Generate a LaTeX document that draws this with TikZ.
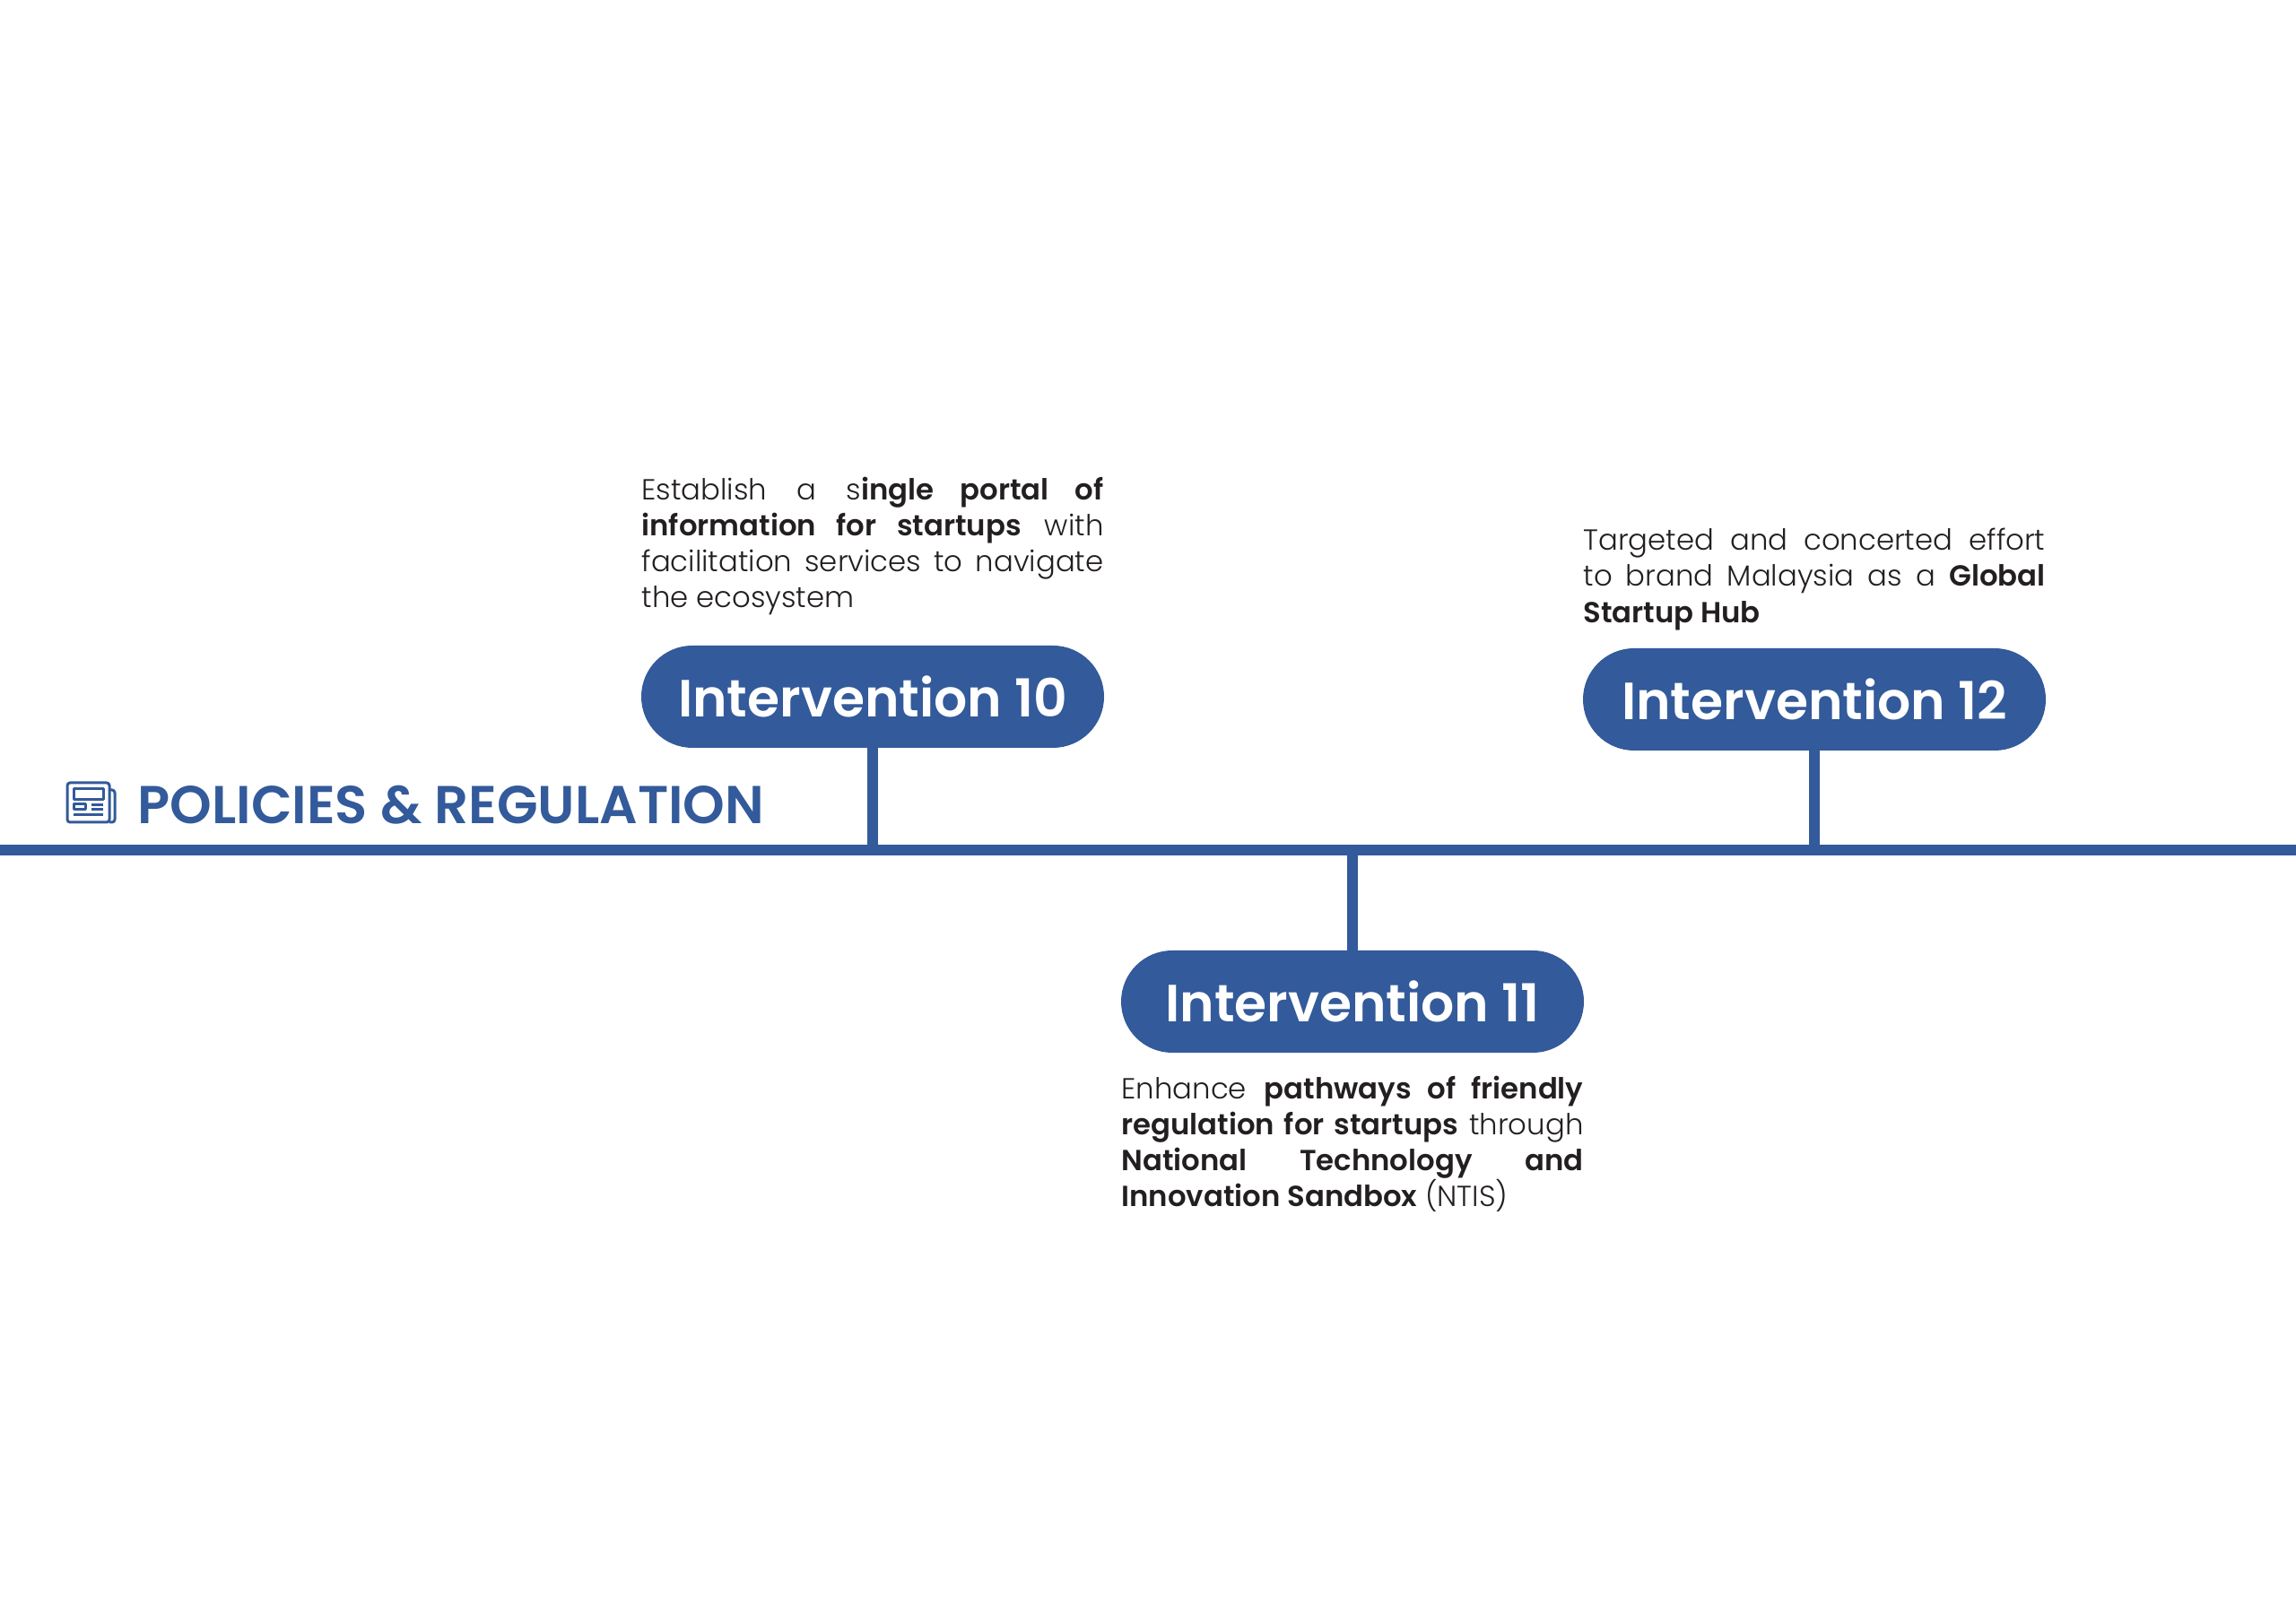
\documentclass[tikz,border=0pt]{standalone}
\usepackage{fontspec}
\usepackage{xcolor}
\usetikzlibrary{positioning,shapes.misc}
\setmainfont{Poppins Light}[BoldFont={Poppins SemiBold}]
\newfontfamily\headfont{Poppins SemiBold}
\definecolor{barblue}{HTML}{335A9A}
\definecolor{inktext}{HTML}{231F20}
\tikzset{
    pill/.style={rounded rectangle, fill=barblue, text=white, minimum width=5.16cm, minimum height=1.14cm, inner sep=0pt, font=\headfont\fontsize{16.6}{20}\selectfont},
    blurb/.style={text width=5.15cm, inner sep=0pt, align=justify, text=inktext, font=\fontsize{9.2}{11.4}\selectfont},
    stem/.style={barblue, line width=0.12cm},
    iconline/.style={barblue, line width=0.03cm, line join=round}
}

\begin{document}
\begin{tikzpicture}
    \useasboundingbox (0,0) rectangle (25.6,18.1);

    % Main line
    \coordinate (lineL) at (0,8.62);
    \coordinate (lineR) at (25.6,8.62);
    \draw[stem] (lineL) -- (lineR);

    % Interventions
    \node[pill] (int10) at (9.73,10.33) {Intervention 10};
    \node[pill] (int11) at (15.08,6.93) {Intervention 11};
    \node[pill] (int12) at (20.23,10.30) {Intervention 12};

    % Stems
    \draw[stem] ([yshift=2pt]int10.south) -- (int10.south |- lineL);
    \draw[stem] ([yshift=-2pt]int11.north) -- (int11.north |- lineL);
    \draw[stem] ([yshift=2pt]int12.south) -- (int12.south |- lineL);

    % Descriptions
    \node[blurb, above=0.33cm of int10] (txt10) {Establish a s\textbf{ingle portal of}\linebreak \textbf{information for startups} with\linebreak facilitation services to navigate\linebreak the ecosystem};
    \node[blurb, below=0.25cm of int11] (txt11) {Enhance \textbf{pathways of friendly}\linebreak \textbf{regulation for startups} through\linebreak \textbf{National Technology and}\linebreak \textbf{Innovation Sandbox} (NTIS)};
    \node[blurb, above=0.19cm of int12] (txt12) {Targeted and concerted effort\linebreak to brand Malaysia as a \textbf{Global}\linebreak \textbf{Startup Hub}};

    % Title
    \node[anchor=west, inner sep=0pt, text=barblue, font=\headfont\fontsize{16.9}{22}\selectfont] (title) at (1.53,9.12) {POLICIES \& REGULATION};

    % Icon
    \draw[iconline, rounded corners=0.03cm] (0.75,9.37) -- (1.22,9.37) -- (1.22,8.93) -- (0.75,8.93) -- cycle;
    \draw[iconline, rounded corners=0.03cm] (1.22,9.29) -- (1.28,9.29) -- (1.28,8.93) -- (1.22,8.93);
    \draw[iconline] (0.82,9.18) rectangle (1.15,9.30);
    \draw[iconline] (0.82,9.07) rectangle (0.95,9.13);
    \draw[iconline] (1.02,9.12) -- (1.15,9.12);
    \draw[iconline] (1.02,9.07) -- (1.15,9.07);
    \draw[iconline] (0.82,9.01) -- (1.15,9.01);
\end{tikzpicture}
\end{document}
